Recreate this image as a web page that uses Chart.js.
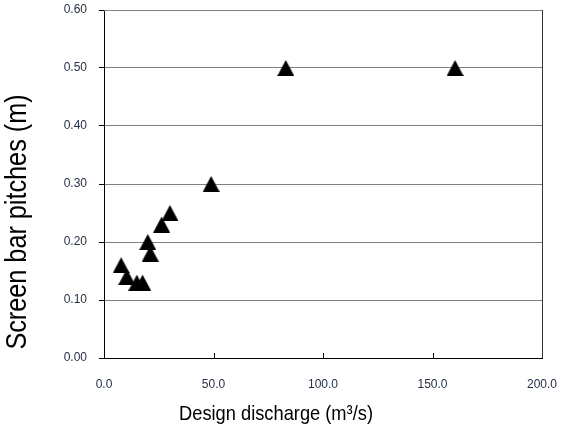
<!DOCTYPE html>
<html>
<head>
<meta charset="utf-8">
<script src="https://cdn.jsdelivr.net/npm/chart.js@4.4.1/dist/chart.umd.min.js"></script>
<style>
html,body{margin:0;padding:0;background:#fff;}
#wrap{width:562px;height:433px;position:relative;}
</style>
</head>
<body>
<div id="wrap"><canvas id="c" width="562" height="433"></canvas></div>
<script>
const discharge = [7.8, 10.4, 15.0, 17.6, 20.0, 21.1, 26.3, 30.1, 48.9, 83.0, 160.3];
const pitch = [0.16, 0.14, 0.13, 0.13, 0.20, 0.18, 0.23, 0.25, 0.30, 0.50, 0.50];
const xTicks = [0, 50, 100, 150, 200];
const yTicks = [0, 0.1, 0.2, 0.3, 0.4, 0.5, 0.6];
const xTitle = 'Design discharge (m\u00B3/s)';
const yTitle = 'Screen bar pitches (m)';

// triangle marker centred on its bounding box
function makeTri(w, h){
  const cv = document.createElement('canvas');
  cv.width = w; cv.height = h;
  const g = cv.getContext('2d');
  g.fillStyle = '#000';
  g.beginPath();
  g.moveTo(w/2, 0);
  g.lineTo(w, h);
  g.lineTo(0, h);
  g.closePath();
  g.fill();
  return cv;
}
const tri = makeTri(17, 16);

const points = discharge.map((x, i) => ({x: x, y: pitch[i]}));
const FAM = "'Liberation Sans', Arial, sans-serif";
const tickFont = {family: FAM, size: 12};
const tickColor = '#25304a';

const framePlugin = {
  id: 'frame',
  afterDatasetsDraw(chart){
    const {ctx, chartArea: a, scales} = chart;
    ctx.save();
    ctx.lineWidth = 1;
    // inward ticks on x axis
    ctx.strokeStyle = '#000';
    xTicks.forEach(v => {
      if (v === xTicks[0] || v === xTicks[xTicks.length-1]) return;
      const px = Math.round(scales.x.getPixelForValue(v)) + 0.5;
      ctx.beginPath();
      ctx.moveTo(px, a.bottom);
      ctx.lineTo(px, a.bottom - 5);
      ctx.stroke();
    });
    // top and right border
    ctx.strokeStyle = '#808080';
    ctx.beginPath();
    ctx.moveTo(a.left, Math.round(a.top) + 0.5);
    ctx.lineTo(a.right, Math.round(a.top) + 0.5);
    ctx.stroke();
    ctx.strokeStyle = '#333';
    ctx.beginPath();
    ctx.moveTo(Math.round(a.right) + 0.5, a.top);
    ctx.lineTo(Math.round(a.right) + 0.5, a.bottom);
    ctx.stroke();
    ctx.restore();
  },
  afterDraw(chart){
    const ctx = chart.ctx;
    ctx.save();
    ctx.fillStyle = '#000';
    // x axis title (slightly condensed face, like the original)
    ctx.save();
    ctx.translate(276, 420);
    ctx.scale(0.87, 1);
    ctx.font = '21px ' + FAM;
    ctx.textAlign = 'center';
    ctx.textBaseline = 'alphabetic';
    ctx.fillText(xTitle, 0, 0);
    ctx.restore();
    // y axis title
    ctx.save();
    ctx.translate(26, 222);
    ctx.rotate(-Math.PI / 2);
    ctx.scale(0.87, 1);
    ctx.font = '29px ' + FAM;
    ctx.textAlign = 'center';
    ctx.textBaseline = 'alphabetic';
    ctx.fillText(yTitle, 0, 0);
    ctx.restore();
    ctx.restore();
  }
};

function zeroPad(s){ s.paddingTop = 0; s.paddingBottom = 0; s.paddingLeft = 0; s.paddingRight = 0; }

new Chart(document.getElementById('c'), {
  type: 'scatter',
  data: {
    datasets: [{
      data: points,
      pointStyle: tri,
      pointRadius: 9,
      pointHoverRadius: 9,
      backgroundColor: '#000',
      borderColor: '#000'
    }]
  },
  options: {
    responsive: false,
    animation: false,
    devicePixelRatio: 1,
    layout: {padding: {left: 0, right: 20, top: 6, bottom: 0}},
    plugins: {legend: {display: false}, tooltip: {enabled: false}},
    scales: {
      x: {
        type: 'linear',
        min: xTicks[0], max: xTicks[xTicks.length-1],
        afterBuildTicks(s){ s.ticks = xTicks.map(v => ({value: v})); },
        afterFit(s){ s.height = 75; zeroPad(s); },
        ticks: {font: tickFont, color: tickColor, padding: 19, maxRotation: 0,
          callback: v => Number(v).toFixed(1)},
        grid: {display: true, drawOnChartArea: false, drawTicks: false},
        border: {display: true, color: '#000', width: 1}
      },
      y: {
        type: 'linear',
        min: yTicks[0], max: yTicks[yTicks.length-1],
        afterBuildTicks(s){ s.ticks = yTicks.map(v => ({value: v})); },
        afterFit(s){ s.width = 104; zeroPad(s); },
        ticks: {font: tickFont, color: tickColor, padding: 12,
          callback: v => Number(v).toFixed(2)},
        grid: {color: '#808080', tickColor: '#000', tickLength: 5, lineWidth: 1},
        border: {display: true, color: '#000', width: 1}
      }
    }
  },
  plugins: [framePlugin]
});
</script>
</body>
</html>
